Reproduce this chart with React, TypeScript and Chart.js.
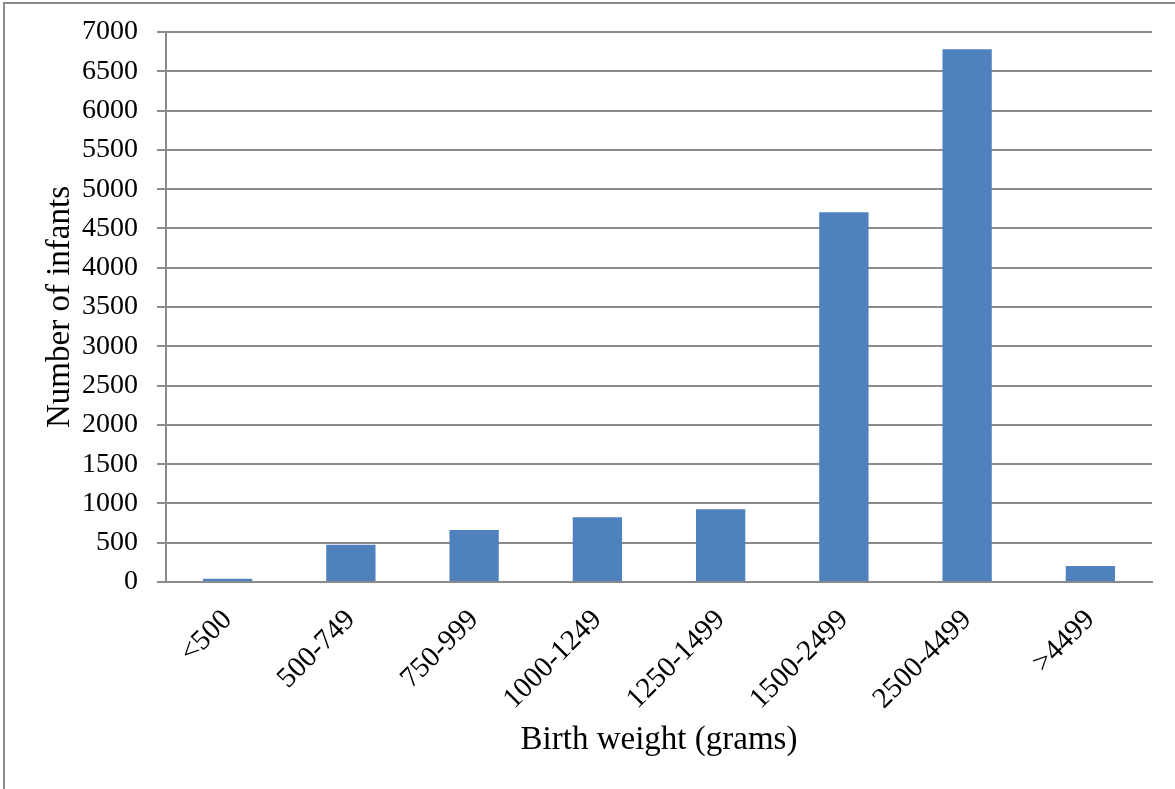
import React, { useEffect, useRef } from "react";
import { Chart, registerables } from "chart.js";

Chart.register(...registerables);

const categories = ["<500", "500-749", "750-999", "1000-1249", "1250-1499", "1500-2499", "2500-4499", ">4499"];
const infants = [40, 475, 662, 823, 925, 4705, 6782, 205];
const yMin = 0;
const yMax = 7000;
const yStep = 500;
const xTitle = "Birth weight (grams)";
const yTitle = "Number of infants";

const FONT = "'Liberation Serif', 'Times New Roman', serif";

export default function App() {
  const ref = useRef<HTMLCanvasElement | null>(null);

  useEffect(() => {
    if (!ref.current) return;
    const chart = new Chart(ref.current, {
      type: "bar",
      data: {
        labels: categories,
        datasets: [
          {
            data: infants,
            backgroundColor: "#4f81bd",
            borderWidth: 0,
            categoryPercentage: 1,
            barPercentage: 0.4,
          },
        ],
      },
      options: {
        responsive: false,
        animation: false,
        maintainAspectRatio: false,
        layout: { padding: { top: 32, right: 23, left: 0, bottom: 0 } },
        plugins: { legend: { display: false }, tooltip: { enabled: false } },
        scales: {
          x: {
            afterFit: (s: any) => {
              s.height = 207;
              s.paddingLeft = 0;
              s.paddingRight = 0;
              s.paddingTop = 0;
              s.paddingBottom = 0;
            },
            grid: { display: false },
            border: { display: true, color: "#8a8a8a", width: 2 },
            ticks: {
              autoSkip: false,
              minRotation: 45,
              maxRotation: 45,
              padding: 13,
              color: "#000",
              font: { family: FONT, size: 29 },
            },
            title: {
              display: true,
              text: xTitle,
              color: "#000",
              font: { family: FONT, size: 33 },
              padding: { top: 0, bottom: 29 },
            },
          },
          y: {
            min: yMin,
            max: yMax,
            afterFit: (s: any) => {
              s.width = 166;
              s.paddingLeft = 0;
              s.paddingRight = 0;
              s.paddingTop = 0;
              s.paddingBottom = 0;
            },
            grid: {
              color: "#8a8a8a",
              lineWidth: 2,
              tickLength: 9,
              drawTicks: true,
            },
            border: { display: true, color: "#8a8a8a", width: 2 },
            ticks: {
              stepSize: yStep,
              padding: 19,
              color: "#000",
              font: { family: FONT, size: 28 },
              callback: (v: any) => String(v),
            },
            title: {
              display: true,
              text: yTitle,
              color: "#000",
              font: { family: FONT, size: 33 },
              padding: { top: 41, bottom: 0 },
            },
          },
        },
      },
    });
    return () => chart.destroy();
  }, []);

  return (
    <div
      style={{
        position: "fixed",
        left: 0,
        top: 0,
        width: 1175,
        height: 789,
        overflow: "hidden",
        background: "#fff",
      }}
    >
      <div
        style={{
          position: "absolute",
          left: 3,
          top: 2,
          width: 1200,
          height: 820,
          borderLeft: "2px solid #8a8a8a",
          borderTop: "2px solid #8a8a8a",
        }}
      />
      <canvas
        ref={ref}
        width={1175}
        height={789}
        style={{ position: "absolute", left: 0, top: 0, width: 1175, height: 789 }}
      />
    </div>
  );
}
